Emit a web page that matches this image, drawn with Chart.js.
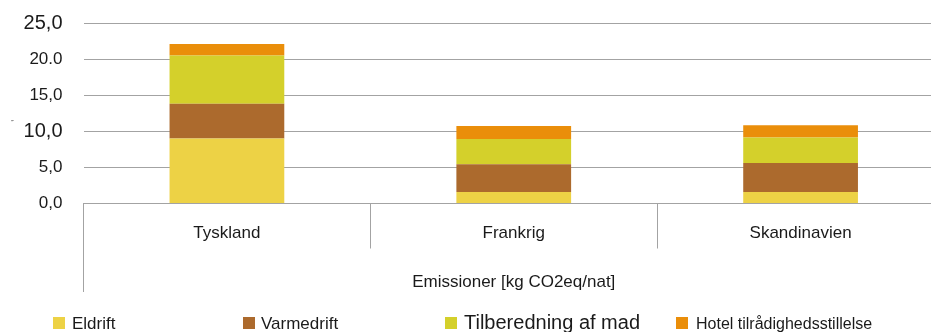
<!DOCTYPE html>
<html>
<head>
<meta charset="utf-8">
<script src="https://cdn.jsdelivr.net/npm/chart.js@4/dist/chart.umd.min.js"></script>
<style>
  html, body { margin: 0; padding: 0; background: #fff; overflow: hidden; }
  #wrap { position: relative; width: 944px; height: 332px; }
</style>
</head>
<body>
<div id="wrap"><canvas id="c"></canvas></div>
<script>
// Emissions per overnight stay, split by source
const categories = ["Tyskland", "Frankrig", "Skandinavien"];
const eldrift = [9.0, 1.6, 1.6];
const varmedrift = [4.8, 3.85, 4.0];
const tilberedning = [6.7, 3.5, 3.55];
const hotel = [1.6, 1.8, 1.7];
const seriesNames = ["Eldrift", "Varmedrift", "Tilberedning af mad", "Hotel tilrådighedsstillelse"];
const yTickLabels = { 0: "0,0", 5: "5,0", 10: "10,0", 15: "15,0", 20: "20.0", 25: "25,0" };
const axisTitle = "Emissioner [kg CO2eq/nat]";

const colors = ["#EDD245", "#AC6A2D", "#D4D02B", "#EA8E0A"];
const gridColor = "#A3A3A3";
const FONT = "'Liberation Sans', Arial, sans-serif";

// Legend laid out along the bottom edge, each entry with its own size
const legendLayout = [
  { box: 53, text: 72, size: 17 },
  { box: 243, text: 261, size: 17 },
  { box: 445, text: 464, size: 20 },
  { box: 676, text: 696, size: 16 }
];

const bottomLegend = {
  id: "bottomLegend",
  afterDraw(chart) {
    const { ctx } = chart;
    const xs = chart.scales.x;
    ctx.save();
    // left axis line continues down past the category labels
    const lx = Math.round(xs.left - 0.5) + 0.5;
    ctx.strokeStyle = gridColor;
    ctx.lineWidth = 1;
    ctx.beginPath();
    ctx.moveTo(lx, xs.top);
    ctx.lineTo(lx, 292);
    ctx.stroke();

    chart.data.datasets.forEach((ds, i) => {
      const L = legendLayout[i];
      ctx.fillStyle = ds.backgroundColor;
      ctx.fillRect(L.box, 317, 12, 12);
      ctx.fillStyle = "#1a1a1a";
      ctx.font = L.size + "px " + FONT;
      ctx.textBaseline = "alphabetic";
      ctx.textAlign = "left";
      ctx.fillText(ds.label, L.text, 329);
    });

    // small stray mark beside the value axis
    ctx.fillStyle = "#555";
    ctx.font = "7px " + FONT;
    ctx.fillText("\u02DD", 11, 126);
    ctx.restore();
  }
};

const values = [eldrift, varmedrift, tilberedning, hotel];

new Chart(document.getElementById("c"), {
  type: "bar",
  data: {
    labels: categories,
    datasets: values.map((v, i) => ({
      label: seriesNames[i],
      data: v,
      backgroundColor: colors[i],
      borderWidth: 0,
      barPercentage: 0.4,
      categoryPercentage: 1
    }))
  },
  options: {
    responsive: true,
    maintainAspectRatio: false,
    animation: false,
    layout: { padding: { top: 23, right: 0, bottom: 36, left: 0 } },
    plugins: {
      legend: { display: false },
      tooltip: { enabled: false }
    },
    scales: {
      x: {
        stacked: true,
        afterFit(s) { s.height = 92.5; s.paddingLeft = 0; s.paddingRight = 0; },
        grid: {
          offset: true,
          drawOnChartArea: false,
          drawTicks: true,
          tickLength: 45,
          color: gridColor,
          lineWidth: 1
        },
        border: { color: gridColor, width: 1 },
        ticks: {
          color: "#1a1a1a",
          padding: -25,
          font: { family: FONT, size: 17 }
        },
        title: {
          display: true,
          text: axisTitle,
          color: "#1a1a1a",
          font: { family: FONT, size: 17 },
          padding: { top: 0, bottom: 3 }
        }
      },
      y: {
        stacked: true,
        min: 0,
        max: 25,
        afterFit(s) { s.width = 83.5; s.paddingTop = 0; s.paddingBottom = 0; },
        grid: { color: gridColor, lineWidth: 1, drawTicks: false },
        border: { display: false },
        ticks: {
          stepSize: 5,
          padding: 21,
          color: "#1a1a1a",
          font: (ctx) => ({
            family: FONT,
            size: (ctx.tick && (ctx.tick.value === 25 || ctx.tick.value === 10)) ? 20 : 17
          }),
          callback: (v) => yTickLabels[v] ?? ""
        }
      }
    }
  },
  plugins: [bottomLegend]
});
</script>
</body>
</html>
